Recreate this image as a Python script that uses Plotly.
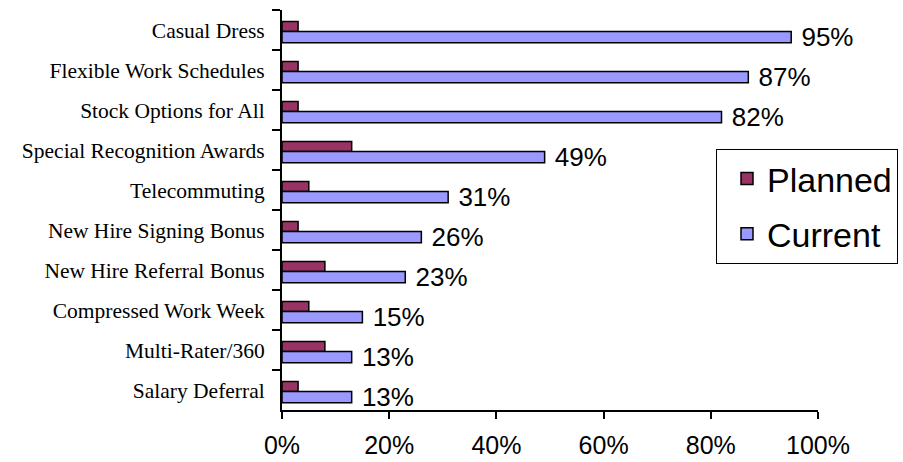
import plotly.graph_objects as go

categories = ["Casual Dress", "Flexible Work Schedules", "Stock Options for All",
              "Special Recognition Awards", "Telecommuting", "New Hire Signing Bonus",
              "New Hire Referral Bonus", "Compressed Work Week", "Multi-Rater/360",
              "Salary Deferral"]
planned = [3, 3, 3, 13, 5, 3, 8, 5, 8, 3]
current = [95, 87, 82, 49, 31, 26, 23, 15, 13, 13]
x_ticks = [0, 20, 40, 60, 80, 100]
x_tick_labels = [f"{v}%" for v in x_ticks]

fig = go.Figure()
fig.add_trace(go.Bar(
    y=categories, x=planned, orientation="h", name="Planned",
    marker=dict(color="#993366", line=dict(color="black", width=1.5)),
    offset=-0.21, width=0.25,
    legendgroup="p",
))
fig.add_trace(go.Bar(
    y=categories, x=current, orientation="h", name="Current",
    marker=dict(color="#9999FF", line=dict(color="black", width=1.5)),
    offset=0.04, width=0.28,
    text=[f"{v}%" for v in current], textposition="outside",
    texttemplate=" %{text}",
    textfont=dict(family="Liberation Sans, Arial", size=26, color="black"),
    constraintext="none", cliponaxis=False,
    legendgroup="c",
))

fig.update_layout(
    width=903, height=462,
    margin=dict(l=282, r=85, t=10, b=52, autoexpand=False),
    paper_bgcolor="white", plot_bgcolor="white",
    barmode="group",
    showlegend=True,
    legend=dict(
        x=(716 - 282) / 536, y=(410 - 149) / 400, xanchor="left", yanchor="top",
        bordercolor="black", borderwidth=1, bgcolor="white",
        font=dict(family="Liberation Sans, Arial", size=34, color="black"),
        tracegroupgap=8, indentation=10,
    ),
    xaxis=dict(
        range=[0, 100], tickmode="array", tickvals=x_ticks, ticktext=x_tick_labels,
        showgrid=False, zeroline=False,
        showline=True, linecolor="black", linewidth=2,
        ticks="outside", ticklen=7, tickwidth=2, tickcolor="black",
        tickfont=dict(family="Liberation Sans, Arial", size=25, color="black"),
        ticklabelstandoff=5,
    ),
    yaxis=dict(
        type="category", autorange="reversed", tickson="boundaries",
        showgrid=False, zeroline=False,
        showline=True, linecolor="black", linewidth=2,
        ticks="outside", ticklen=8, tickwidth=2, tickcolor="black",
        tickfont=dict(family="Liberation Serif, Times New Roman", size=21.5, color="black"),
        ticklabelstandoff=11,
    ),
)

fig.write_html("out.html")
